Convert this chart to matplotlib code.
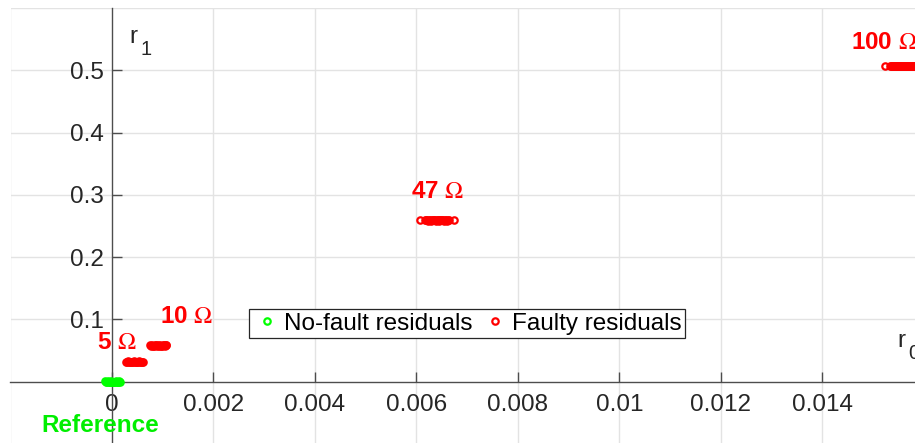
import matplotlib
matplotlib.use("Agg")
import matplotlib.pyplot as plt
from matplotlib.transforms import offset_copy

plt.rcParams['font.family'] = ['Liberation Sans', 'DejaVu Sans']

# No-fault residuals (r0, r1)
nofault_r0 = [-0.000140, -0.000121, -0.000104, -0.000083, -0.000066, -0.000047,
              -0.000031, -0.000012, 0.000004, 0.000021, 0.000038, 0.000057,
              0.000072, 0.000091, 0.000109, 0.000126, 0.000143, 0.000158]
nofault_r1 = [0.0004, -0.0003, 0.0002, 0.0006, -0.0005, 0.0001,
              -0.0002, 0.0005, -0.0004, 0.0003, 0.0000, -0.0006,
              0.0004, -0.0001, 0.0002, -0.0003, 0.0005, 0.0001]

# Faulty residuals for each fault resistance
f5_r0 = [0.000281, 0.000300, 0.000322, 0.000339, 0.000361, 0.000378,
         0.000398, 0.000417, 0.000437, 0.000455, 0.000476, 0.000494,
         0.000513, 0.000533, 0.000552, 0.000571, 0.000590, 0.000609]
f5_r1 = [0.0322, 0.0318, 0.0325, 0.0320, 0.0316, 0.0324, 0.0321, 0.0319, 0.0326,
         0.0317, 0.0323, 0.0320, 0.0318, 0.0325, 0.0322, 0.0316, 0.0321, 0.0324]

f10_r0 = [0.000752, 0.000771, 0.000790, 0.000808, 0.000829, 0.000847,
          0.000866, 0.000886, 0.000905, 0.000923, 0.000944, 0.000962,
          0.000981, 0.001001, 0.001019, 0.001038, 0.001057, 0.001071]
f10_r1 = [0.0583, 0.0579, 0.0586, 0.0581, 0.0577, 0.0585, 0.0582, 0.0580, 0.0587,
          0.0578, 0.0584, 0.0581, 0.0579, 0.0586, 0.0583, 0.0577, 0.0582, 0.0585]

f47_r0 = [0.006072, 0.006171, 0.006189, 0.006207, 0.006228, 0.006246, 0.006265,
          0.006284, 0.006303, 0.006322, 0.006341, 0.006360, 0.006379, 0.006398,
          0.006417, 0.006436, 0.006455, 0.006474, 0.006493, 0.006512, 0.006531,
          0.006550, 0.006569, 0.006588, 0.006607, 0.006626, 0.006645, 0.006731]
f47_r1 = [0.2593, 0.2590, 0.2596, 0.2592, 0.2588, 0.2595, 0.2591, 0.2589, 0.2597,
          0.2590, 0.2594, 0.2592, 0.2588, 0.2596, 0.2593, 0.2589, 0.2591, 0.2595,
          0.2590, 0.2594, 0.2592, 0.2588, 0.2596, 0.2593, 0.2589, 0.2591, 0.2594,
          0.2592]

f100_r0 = [0.015232, 0.015331, 0.015350, 0.015369, 0.015388, 0.015407, 0.015426,
           0.015445, 0.015464, 0.015483, 0.015502, 0.015521, 0.015540, 0.015559,
           0.015578, 0.015597, 0.015616, 0.015635, 0.015654, 0.015673, 0.015692,
           0.015711, 0.015730, 0.015749, 0.015768, 0.015787, 0.015806, 0.015825,
           0.015844, 0.015863, 0.015882, 0.015901]
f100_r1 = [0.5071, 0.5068, 0.5074, 0.5070, 0.5066, 0.5073, 0.5069, 0.5067, 0.5075,
           0.5068, 0.5072, 0.5070, 0.5066, 0.5074, 0.5071, 0.5067, 0.5069, 0.5073,
           0.5068, 0.5072, 0.5070, 0.5066, 0.5074, 0.5071, 0.5067, 0.5069, 0.5072,
           0.5070, 0.5068, 0.5073, 0.5069, 0.5071]

fault_groups = [(f5_r0, f5_r1), (f10_r0, f10_r1), (f47_r0, f47_r1), (f100_r0, f100_r1)]
fault_labels = ['5', '10', '47', '100']
fault_label_pos = [(0.0000985, 0.0622, 'center'), (0.00146, 0.1055, 'center'),
                   (0.00641, 0.306, 'center'), (0.01457, 0.544, 'left')]

xticks = [0, 0.002, 0.004, 0.006, 0.008, 0.01, 0.012, 0.014]
xtick_labels = ['0', '0.002', '0.004', '0.006', '0.008', '0.01', '0.012', '0.014']
yticks = [0.1, 0.2, 0.3, 0.4, 0.5]
ytick_labels = ['0.1', '0.2', '0.3', '0.4', '0.5']
xgrid = [-0.002, 0.002, 0.004, 0.006, 0.008, 0.01, 0.012, 0.014, 0.016]
ygrid = [0.1, 0.2, 0.3, 0.4, 0.5, 0.6]

W, H = 915, 443
fig = plt.figure(figsize=(W / 100, H / 100), dpi=100)
ax = fig.add_axes([10.5 / W, (H - 444) / H, (923.8 - 10.5) / W, (444 - 8.1) / H])
ax.set_xlim(-0.002, 0.016)
ax.set_ylim(-0.1, 0.6)

grid_c = '#e3e3e3'
for gx in xgrid:
    ax.axvline(gx, color=grid_c, lw=1.0, zorder=0)
for gy in ygrid:
    ax.axhline(gy, color=grid_c, lw=1.0, zorder=0)

axis_c = '#4d4d4d'
for s in ['top', 'right']:
    ax.spines[s].set_visible(False)
ax.spines['left'].set_position(('data', 0))
ax.spines['bottom'].set_position(('data', 0))
ax.spines['left'].set_color(axis_c)
ax.spines['bottom'].set_color(axis_c)
ax.spines['left'].set_linewidth(1.0)
ax.spines['bottom'].set_linewidth(1.0)

ax.set_xticks(xticks)
ax.set_xticklabels(xtick_labels)
ax.set_yticks(yticks)
ax.set_yticklabels(ytick_labels)
ax.tick_params(axis='both', direction='in', length=7, width=1.0, color=axis_c,
               labelsize=17.5, labelcolor='#262626')
ax.tick_params(axis='x', pad=9)
ax.tick_params(axis='y', pad=6)

mk = dict(marker='o', linestyle='none', markersize=4.6, markerfacecolor='none',
          markeredgewidth=1.6, clip_on=False)
ax.plot(nofault_r0, nofault_r1, markeredgecolor='#00ff00', label='No-fault residuals',
        zorder=3, **mk)
for i, (r0, r1) in enumerate(fault_groups):
    ax.plot(r0, r1, markeredgecolor='#ff0000',
            label='Faulty residuals' if i == 0 else None, zorder=3, **mk)

for name, (tx, ty, ha) in zip(fault_labels, fault_label_pos):
    ax.text(tx, ty, name + r' $\Omega$', color='#ff0000', fontsize=17.5,
            fontweight='bold', ha=ha, va='center', math_fontfamily='stix')

ax.text(-0.000237, -0.071, 'Reference', color='#00ee00', fontsize=17.5,
        fontweight='bold', ha='center', va='center')


def axis_name(x, y, base, sub):
    # letter with a large, dropped subscript
    ax.text(x, y, base, fontsize=17.5, color='#262626', ha='left', va='baseline')
    tr = offset_copy(ax.transData, fig=fig, x=8.3, y=-8.6, units='points')
    ax.text(x, y, sub, fontsize=14.5, color='#262626', ha='left', va='baseline',
            transform=tr, clip_on=False)


axis_name(0.000335, 0.544, 'r', '1')
axis_name(0.01547, 0.0557, 'r', '0')

leg = ax.legend(loc='center', bbox_to_anchor=(467 / W, 1 - 323.5 / H),
                bbox_transform=fig.transFigure, ncol=2, fontsize=17.5,
                frameon=True, fancybox=False, framealpha=1, edgecolor='#262626',
                borderpad=0.15, handlelength=1.2, handletextpad=0.1,
                columnspacing=0.3, numpoints=1, borderaxespad=0)
leg.get_frame().set_linewidth(0.9)

fig.savefig('out.png', dpi=100)
